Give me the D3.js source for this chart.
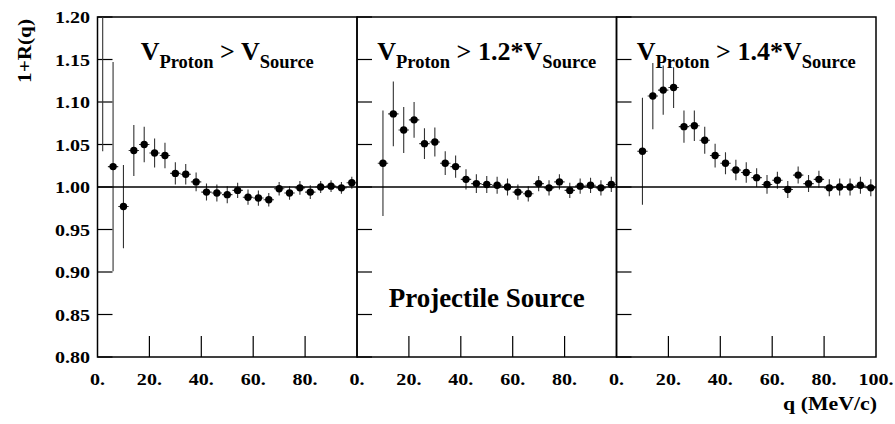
<!DOCTYPE html>
<html><head><meta charset="utf-8">
<script src="https://cdn.jsdelivr.net/npm/d3@7"></script>
<style>
body{margin:0;background:#fff;}
</style></head>
<body><svg id="c" width="895" height="424"></svg>
<script>
// ---- data ----
const q = [2,6,10,14,18,22,26,30,34,38,42,46,50,54,58,62,66,70,74,78,82,86,90,94,98];
const r1 = [1.255,1.024,0.977,1.043,1.050,1.040,1.037,1.016,1.015,1.006,0.994,0.993,0.991,0.996,0.988,0.987,0.985,0.998,0.993,0.999,0.994,1.000,1.001,0.999,1.005];
const e1 = [0.213,0.123,0.049,0.030,0.021,0.017,0.015,0.013,0.012,0.011,0.010,0.010,0.010,0.009,0.009,0.009,0.008,0.008,0.008,0.008,0.008,0.007,0.007,0.007,0.007];
const r2 = [null,null,1.028,1.086,1.067,1.079,1.051,1.053,1.028,1.024,1.009,1.004,1.003,1.002,1.000,0.994,0.992,1.004,0.999,1.006,0.996,1.001,1.002,0.999,1.003];
const e2 = [null,null,0.062,0.038,0.027,0.021,0.018,0.017,0.014,0.013,0.012,0.011,0.010,0.010,0.010,0.009,0.009,0.009,0.009,0.009,0.009,0.009,0.009,0.009,0.009];
const r3 = [null,null,1.042,1.107,1.114,1.117,1.071,1.072,1.055,1.037,1.028,1.020,1.017,1.011,1.003,1.008,0.997,1.014,1.004,1.009,0.999,1.000,1.000,1.002,0.999];
const e3 = [null,null,0.063,0.039,0.029,0.024,0.019,0.018,0.016,0.014,0.013,0.012,0.012,0.011,0.011,0.010,0.010,0.010,0.010,0.010,0.010,0.010,0.010,0.010,0.010];
const binHalf = 2;
const yTicks = [0.80,0.85,0.90,0.95,1.00,1.05,1.10,1.15,1.20];
const xTicks = [0,20,40,60,80,100];
const titleRatio = ["", "1.2*", "1.4*"];
const yLabel = "1+R(q)";
const xLabel = "q (MeV/c)";
const note = "Projectile Source";

// ---- layout ----
const FONT = "'Liberation Serif', Tinos, 'Times New Roman', serif";
const svg = d3.select("#c");
const L = 97.5, R = 876, T = 17, B = 357;
const pw = (R - L) / 3;
const SX = 1.18;
const y = d3.scaleLinear().domain([0.8, 1.2]).range([B, T]);
const series = [[r1,e1],[r2,e2],[r3,e3]];

function txt(sel) {
  return sel.style("font-family", FONT).style("font-weight", "bold").attr("fill", "#000");
}

svg.append("defs").selectAll("clipPath").data([0,1,2]).join("clipPath")
  .attr("id", i => "clip" + i)
  .append("rect").attr("x", i => L + i*pw).attr("y", T).attr("width", pw).attr("height", B - T);

series.forEach(([vals, errs], i) => {
  const x0 = L + i*pw;
  const x = d3.scaleLinear().domain([0, 100]).range([x0, x0 + pw]);
  const g = svg.append("g");
  g.selectAll("line.yt").data(yTicks).join("line")
    .attr("x1", x0).attr("x2", x0 + 15)
    .attr("y1", d => y(d)).attr("y2", d => y(d))
    .attr("stroke", "#000").attr("stroke-width", 1.2);
  g.selectAll("line.xt").data(xTicks.filter(d => d > 0 && d < 100)).join("line")
    .attr("x1", d => x(d)).attr("x2", d => x(d))
    .attr("y1", B).attr("y2", B - 21)
    .attr("stroke", "#000").attr("stroke-width", 1.2);
  const labs = xTicks.filter(d => i === 2 || d < 100);
  txt(g.selectAll("text.xl").data(labs).join("text"))
    .attr("transform", d => `translate(${x(d)},385) scale(${SX},1)`)
    .attr("text-anchor", "middle").style("font-size", "17px")
    .text(d => d + ".");
  g.append("rect").attr("x", x0).attr("y", T).attr("width", pw).attr("height", B - T)
    .attr("fill", "none").attr("stroke", "#000").attr("stroke-width", 1.5);
  const pts = q.map((d, k) => ({q: d, v: vals[k], e: errs[k]})).filter(d => d.v != null);
  const dg = svg.append("g").attr("clip-path", `url(#clip${i})`);
  dg.selectAll("line.ey").data(pts).join("line")
    .attr("x1", d => x(d.q)).attr("x2", d => x(d.q))
    .attr("y1", d => y(d.v - d.e)).attr("y2", d => y(d.v + d.e))
    .attr("stroke", "#333").attr("stroke-width", 1.1);
  dg.selectAll("line.ex").data(pts).join("line")
    .attr("x1", d => x(d.q - binHalf)).attr("x2", d => x(d.q + binHalf))
    .attr("y1", d => y(d.v)).attr("y2", d => y(d.v))
    .attr("stroke", "#333").attr("stroke-width", 1.1);
  dg.selectAll("circle").data(pts).join("circle")
    .attr("cx", d => x(d.q)).attr("cy", d => y(d.v)).attr("r", 3.7).attr("fill", "#000");
  const cx = x0 + pw/2;
  const t = txt(svg.append("text")).attr("x", cx).attr("y", 60).attr("text-anchor", "middle").style("font-size", "26px");
  t.append("tspan").text("V");
  t.append("tspan").style("font-size", "18.5px").attr("dy", 8).text("Proton");
  t.append("tspan").attr("dy", -8).text(i === 2 ? " >  " + titleRatio[i] + "V" : " > " + titleRatio[i] + "V");
  t.append("tspan").style("font-size", "18.5px").attr("dy", 8).text("Source");
});

svg.append("line").attr("x1", L).attr("x2", R).attr("y1", y(1)).attr("y2", y(1))
  .attr("stroke", "#000").attr("stroke-width", 1.3);

txt(svg.selectAll("text.yl").data(yTicks).join("text"))
  .attr("transform", d => `translate(90,${y(d) + 6}) scale(${SX},1)`)
  .attr("text-anchor", "end").style("font-size", "17px")
  .text(d => d.toFixed(2));

txt(svg.append("text")).attr("transform", `translate(31,51) rotate(-90) scale(${SX},1)`)
  .attr("text-anchor", "middle").style("font-size", "18px").text(yLabel);
txt(svg.append("text")).attr("transform", `translate(877,410) scale(${SX},1)`)
  .attr("text-anchor", "end").style("font-size", "18.5px").text(xLabel);

txt(svg.append("text")).attr("x", L + 1.5*pw).attr("y", 307).attr("text-anchor", "middle")
  .style("font-size", "27px").text(note);
</script></body></html>
